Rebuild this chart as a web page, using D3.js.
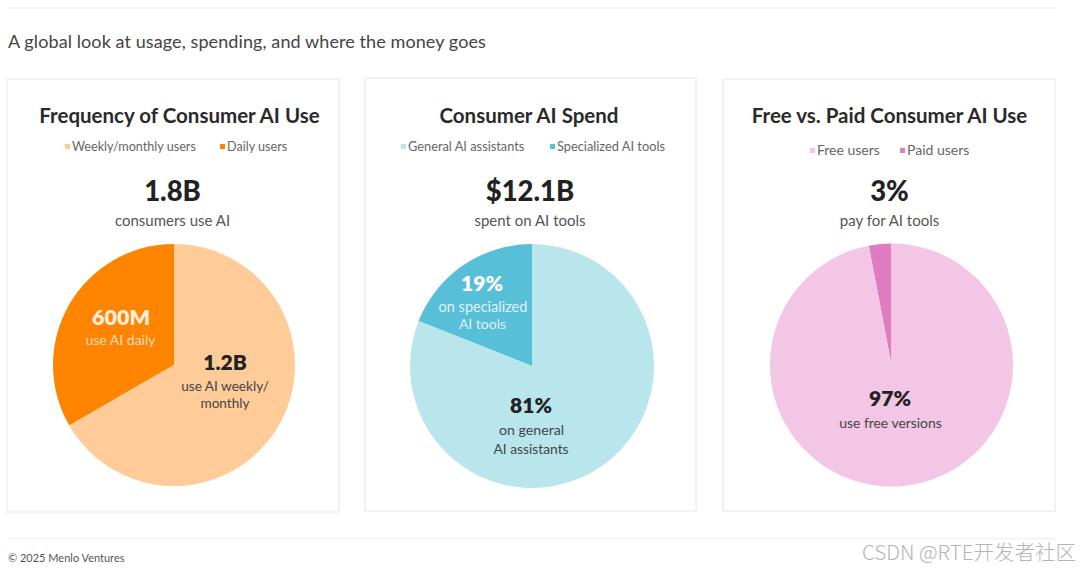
<!DOCTYPE html>
<html>
<head>
<meta charset="utf-8">
<script src="https://cdn.jsdelivr.net/npm/d3@7"></script>
<style>
body { margin:0; background:#fff; }
svg { display:block; font-family:"Lato",sans-serif; }
</style>
</head>
<body>
<svg id="chart" width="1080" height="570"></svg>
<script>
var titles = ["Frequency of Consumer AI Use", "Consumer AI Spend", "Free vs. Paid Consumer AI Use"];
var bigNumbers = ["1.8B", "$12.1B", "3%"];
var bigCaptions = ["consumers use AI", "spent on AI tools", "pay for AI tools"];
var legendLabels = [["Weekly/monthly users", "Daily users"], ["General AI assistants", "Specialized AI tools"], ["Free users", "Paid users"]];

// first value is the small slice, it ends at 12 o'clock
var freqValues = [0.6, 1.2];    // billions
var spendValues = [19, 81];     // percent
var paidValues = [3, 97];       // percent

var orange = ["#ff8400", "#ffcc99"];
var teal = ["#58bfd8", "#b9e6ec"];
var pink = ["#e07cc0", "#f2c6e4"];

var svg = d3.select("#chart");

// page furniture
svg.append("line").attr("x1", 8).attr("x2", 1056).attr("y1", 8).attr("y2", 8).attr("stroke", "#f3f3f3").attr("stroke-width", 1.5);
svg.append("line").attr("x1", 8).attr("x2", 1056).attr("y1", 538.5).attr("y2", 538.5).attr("stroke", "#f1f1f1").attr("stroke-width", 1.5);
svg.append("text").attr("x", 8).attr("y", 48).attr("font-size", 18).attr("letter-spacing", 0.09).attr("fill", "#444").text("A global look at usage, spending, and where the money goes");
svg.append("text").attr("x", 8).attr("y", 562).attr("font-size", 11).attr("fill", "#555").text("© 2025 Menlo Ventures");
svg.append("text").attr("x", 1076).attr("y", 560).attr("text-anchor", "end").attr("font-size", 20.5).attr("font-weight", 300)
    .attr("font-family", "'Noto Sans CJK SC',sans-serif").attr("fill", "#b4b4b4").text("CSDN @RTE开发者社区");

var panels = [
    {x:7, w:332, y:79, h:433, cx:174, cy:365, r:121, values:freqValues, colors:orange, titleX:179.5, titleY:123, legendY:151, legendX:[65, 220], legendSize:12.6, mid:172.5},
    {x:365, w:331, y:78, h:433, cx:532, cy:366, r:122, values:spendValues, colors:teal, titleX:529, titleY:123, legendY:151, legendX:[401, 550], legendSize:12.8, mid:530},
    {x:723, w:332, y:79, h:432, cx:891.5, cy:365, r:121.5, values:paidValues, colors:pink, titleX:889.5, titleY:123, legendY:155, legendX:[810, 900], legendSize:14, mid:889.5}
];

panels.forEach(function(p, i) {
    var g = svg.append("g");
    g.append("rect").attr("x", p.x).attr("y", p.y).attr("width", p.w).attr("height", p.h)
        .attr("fill", "#fff").attr("stroke", "#f2f2f2").attr("stroke-width", 2);
    g.append("text").attr("x", p.titleX).attr("y", p.titleY).attr("text-anchor", "middle")
        .attr("font-size", 20.5).attr("font-weight", 700).attr("fill", "#2a2a2a").text(titles[i]);

    legendLabels[i].forEach(function(label, j) {
        var colour = p.colors[1 - j];
        g.append("rect").attr("x", p.legendX[j]).attr("y", p.legendY - 7).attr("width", 5).attr("height", 5).attr("fill", colour);
        g.append("text").attr("x", p.legendX[j] + 7).attr("y", p.legendY).attr("font-size", p.legendSize).attr("fill", "#666").text(label);
    });

    g.append("text").attr("x", p.mid).attr("y", 201).attr("text-anchor", "middle")
        .attr("font-size", 27.5).attr("font-weight", 900).attr("fill", "#222").text(bigNumbers[i]);
    g.append("text").attr("x", p.mid).attr("y", 226).attr("text-anchor", "middle")
        .attr("font-size", 15).attr("fill", "#555").text(bigCaptions[i]);

    var share = 2 * Math.PI * p.values[0] / d3.sum(p.values);
    var pie = d3.pie().sort(null).startAngle(-share).endAngle(2 * Math.PI - share);
    var arc = d3.arc().innerRadius(0).outerRadius(p.r);
    g.append("g").attr("transform", "translate(" + p.cx + "," + p.cy + ")")
        .selectAll("path").data(pie(p.values)).enter().append("path")
        .attr("d", arc).attr("fill", function(d, k) { return p.colors[k]; });
});

// labels that sit on the slices
var sliceLabels = [
    {x:121, y:325, text:"600M", size:21.5, weight:800, fill:"#ffeedd"},
    {x:120.5, y:345, text:"use AI daily", size:14, weight:400, fill:"#ffdcb8"},
    {x:225, y:370, text:"1.2B", size:21, weight:800, fill:"#222"},
    {x:225, y:391, text:"use AI weekly/", size:13.6, weight:400, fill:"#444"},
    {x:225, y:408, text:"monthly", size:13.6, weight:400, fill:"#444"},
    {x:482, y:291, text:"19%", size:21, weight:800, fill:"#fff"},
    {x:483, y:312, text:"on specialized", size:14.5, weight:400, fill:"#def3f8"},
    {x:482.5, y:329, text:"AI tools", size:14, weight:400, fill:"#def3f8"},
    {x:531, y:413, text:"81%", size:21, weight:800, fill:"#222"},
    {x:531.5, y:435, text:"on general", size:14.2, weight:400, fill:"#444"},
    {x:531, y:454, text:"AI assistants", size:13.8, weight:400, fill:"#444"},
    {x:890, y:406, text:"97%", size:21, weight:800, fill:"#222"},
    {x:890.5, y:428, text:"use free versions", size:13.9, weight:400, fill:"#444"}
];
svg.append("g").selectAll("text").data(sliceLabels).enter().append("text")
    .attr("x", function(d) { return d.x; })
    .attr("y", function(d) { return d.y; })
    .attr("text-anchor", "middle")
    .attr("font-size", function(d) { return d.size; })
    .attr("font-weight", function(d) { return d.weight; })
    .attr("fill", function(d) { return d.fill; })
    .text(function(d) { return d.text; });
</script>
</body>
</html>
